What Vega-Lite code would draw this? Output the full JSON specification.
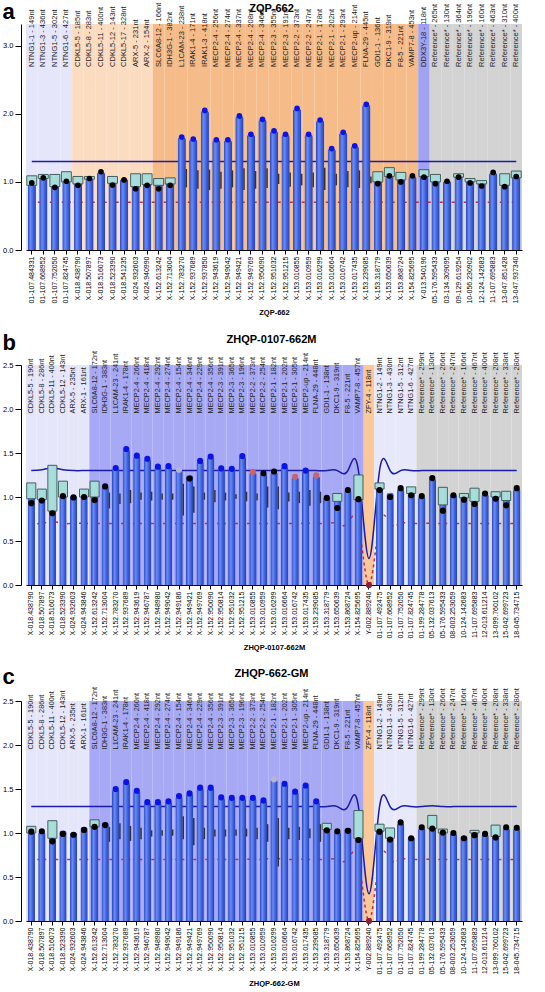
{
"$schema": "https://vega.github.io/schema/vega-lite/v6.json",
"padding": {"left": 2, "top": 1, "right": 4, "bottom": 0},
"config": {"view": {"stroke": null}, "font": "Liberation Sans",
 "axisY": {"offset": 5, "tickSize": 6, "labelPadding": 2, "titlePadding": 12, "labelFontSize": 7.5, "titleFontSize": 7.5, "titleFontWeight": "bold", "grid": false, "domainColor": "#000", "tickColor": "#000", "labelColor": "#000", "titleColor": "#000", "title": "Ratio"},
 "axisX": {"labelAngle": 270, "labelFontSize": 7, "labelColor": "#000", "tickSize": 4, "labelPadding": 2, "titleFontSize": 7.5, "titleFontWeight": "bold", "titleColor": "#000", "titlePadding": 5, "domainColor": "#000", "tickColor": "#000", "labelOverlap": false, "labelLimit": 0, "grid": false}},
"datasets": {
"a": [
{"p":"01-107.484331","t":"NTNG1-1 - 149nt","g":"NTNG1","v":1.09,"d":0.985,"s":"n","lo":0.95,"hi":1.09,"u":1.3,"l":0.7},
{"p":"01-107.668952","t":"NTNG1-3 - 436nt","g":"NTNG1","v":1.11,"d":1.06,"s":"n","lo":1.05,"hi":1.11,"u":1.3,"l":0.7},
{"p":"01-107.752050","t":"NTNG1-5 - 302nt","g":"NTNG1","v":1.11,"d":0.92,"s":"n","lo":0.93,"hi":1.11,"u":1.3,"l":0.7},
{"p":"01-107.824745","t":"NTNG1-6 - 427nt","g":"NTNG1","v":1.15,"d":1.01,"s":"n","lo":1.0,"hi":1.15,"u":1.3,"l":0.7},
{"p":"X-018.438790","t":"CDKL5-5 - 185nt","g":"CDKL5","v":1.08,"d":0.95,"s":"n","lo":0.97,"hi":1.08,"u":1.3,"l":0.7},
{"p":"X-018.507897","t":"CDKL5-8 - 283nt","g":"CDKL5","v":1.08,"d":1.05,"s":"n","lo":1.04,"hi":1.08,"u":1.3,"l":0.7},
{"p":"X-018.516073","t":"CDKL5-11 - 400nt","g":"CDKL5","v":1.15,"d":1.15,"s":"n","u":1.3,"l":0.7},
{"p":"X-018.523390","t":"CDKL5-12 - 143nt","g":"CDKL5","v":1.08,"d":0.955,"s":"n","lo":0.98,"hi":1.08,"u":1.3,"l":0.7},
{"p":"X-018.541235","t":"CDKL5-17 - 328nt","g":"CDKL5","v":1.05,"d":1.03,"s":"n","u":1.3,"l":0.7},
{"p":"X-024.932603","t":"ARX-5 - 231nt","g":"CDKL5","v":1.12,"d":0.9,"s":"n","lo":0.93,"hi":1.12,"u":1.3,"l":0.7},
{"p":"X-024.940990","t":"ARX-2 - 154nt","g":"CDKL5","v":1.12,"d":0.95,"s":"n","lo":0.96,"hi":1.12,"u":1.3,"l":0.7},
{"p":"X-152.613242","t":"SLC6A8-12 - 166nt","g":"XQ28","v":1.05,"d":0.9,"s":"n","lo":0.95,"hi":1.05,"u":1.3,"l":0.7},
{"p":"X-152.713004","t":"IDH3G-1 - 382nt","g":"XQ28","v":1.06,"d":0.95,"s":"n","lo":0.97,"hi":1.06,"u":1.3,"l":0.7},
{"p":"X-152.783270","t":"L1CAM-23 - 238nt","g":"XQ28","v":1.66,"d":1.66,"s":"gain","el":0.92,"eh":1.19,"u":1.3,"l":0.7},
{"p":"X-152.937689","t":"IRAK1-4 - 171nt","g":"XQ28","v":1.63,"d":1.63,"s":"gain","el":0.9,"eh":1.17,"u":1.3,"l":0.7},
{"p":"X-152.937850","t":"IRAK1-3 - 418nt","g":"XQ28","v":2.05,"d":2.05,"s":"gain","el":0.88,"eh":1.18,"u":1.3,"l":0.7},
{"p":"X-152.943619","t":"MECP2-4 - 256nt","g":"XQ28","v":1.62,"d":1.62,"s":"gain","el":0.9,"eh":1.15,"u":1.3,"l":0.7},
{"p":"X-152.949042","t":"MECP2-4 - 274nt","g":"XQ28","v":1.62,"d":1.62,"s":"gain","el":0.92,"eh":1.17,"u":1.3,"l":0.7},
{"p":"X-152.949421","t":"MECP2-4 - 337nt","g":"XQ28","v":1.97,"d":1.97,"s":"gain","el":0.88,"eh":1.2,"u":1.3,"l":0.7},
{"p":"X-152.949769","t":"MECP2-4 - 208nt","g":"XQ28","v":1.7,"d":1.7,"s":"gain","el":0.9,"eh":1.16,"u":1.3,"l":0.7},
{"p":"X-152.950090","t":"MECP2-4 - 346nt","g":"XQ28","v":1.92,"d":1.92,"s":"gain","el":0.91,"eh":1.2,"u":1.3,"l":0.7},
{"p":"X-152.951032","t":"MECP2-3 - 355nt","g":"XQ28","v":1.75,"d":1.75,"s":"gain","el":0.97,"eh":1.12,"u":1.3,"l":0.7},
{"p":"X-152.951215","t":"MECP2-3 - 191nt","g":"XQ28","v":1.7,"d":1.7,"s":"gain","el":0.93,"eh":1.14,"u":1.3,"l":0.7},
{"p":"X-153.010855","t":"MECP2-2 - 373nt","g":"XQ28","v":2.08,"d":2.08,"s":"gain","el":0.95,"eh":1.12,"u":1.3,"l":0.7},
{"p":"X-153.010959","t":"MECP2-2 - 247nt","g":"XQ28","v":1.7,"d":1.7,"s":"gain","el":0.92,"eh":1.14,"u":1.3,"l":0.7},
{"p":"X-153.016299","t":"MECP2-1 - 178nt","g":"XQ28","v":1.91,"d":1.91,"s":"gain","el":0.88,"eh":1.21,"u":1.3,"l":0.7},
{"p":"X-153.016664","t":"MECP2-1 - 202nt","g":"XQ28","v":1.49,"d":1.49,"s":"gain","el":0.95,"eh":1.12,"u":1.3,"l":0.7},
{"p":"X-153.016742","t":"MECP2-1 - 293nt","g":"XQ28","v":1.73,"d":1.73,"s":"gain","el":0.92,"eh":1.16,"u":1.3,"l":0.7},
{"p":"X-153.017435","t":"MECP2-up - 214nt","g":"XQ28","v":1.53,"d":1.53,"s":"gain","el":0.91,"eh":1.17,"u":1.3,"l":0.7},
{"p":"X-153.239085","t":"FLNA-29 - 445nt","g":"XQ28","v":2.14,"d":2.14,"s":"gain","el":0.98,"eh":1.08,"u":1.3,"l":0.7},
{"p":"X-153.318779","t":"GDI1-1 - 136nt","g":"XQ28","v":1.15,"d":0.975,"s":"n","lo":1.0,"hi":1.15,"u":1.3,"l":0.7},
{"p":"X-153.650639","t":"DKC1-9 - 319nt","g":"XQ28","v":1.21,"d":1.09,"s":"n","lo":1.08,"hi":1.21,"u":1.3,"l":0.7},
{"p":"X-153.868724","t":"F8-5 - 221nt","g":"XQ28","v":1.14,"d":1.0,"s":"n","lo":1.03,"hi":1.14,"u":1.3,"l":0.7},
{"p":"X-154.825695","t":"VAMP7-8 - 453nt","g":"XQ28","v":1.09,"d":1.09,"s":"n","u":1.3,"l":0.7},
{"p":"Y-013.540196","t":"DDX3Y-18 - 118nt","g":"DDX3Y","v":1.18,"d":1.07,"s":"n","lo":1.08,"hi":1.18,"u":1.3,"l":0.7},
{"p":"05-176.595433","t":"Reference* - 265nt","g":"REF","v":1.11,"d":0.975,"s":"n","lo":1.0,"hi":1.11,"u":1.3,"l":0.7},
{"p":"03-134.309095","t":"Reference* - 130nt","g":"REF","v":1.02,"d":1.01,"s":"n","u":1.3,"l":0.7},
{"p":"09-129.619254","t":"Reference* - 364nt","g":"REF","v":1.12,"d":1.07,"s":"n","lo":1.07,"hi":1.12,"u":1.3,"l":0.7},
{"p":"10-056.230902","t":"Reference* - 196nt","g":"REF","v":1.05,"d":0.985,"s":"n","lo":1.0,"hi":1.05,"u":1.3,"l":0.7},
{"p":"12-124.142683","t":"Reference* - 160nt","g":"REF","v":1.02,"d":0.94,"s":"n","lo":0.97,"hi":1.02,"u":1.3,"l":0.7},
{"p":"11-107.695883","t":"Reference* - 463nt","g":"REF","v":1.14,"d":1.14,"s":"n","u":1.3,"l":0.7},
{"p":"13-047.851428","t":"Reference* - 310nt","g":"REF","v":1.12,"d":0.93,"s":"n","lo":0.95,"hi":1.12,"u":1.3,"l":0.7},
{"p":"13-047.937340","t":"Reference* - 400nt","g":"REF","v":1.16,"d":1.08,"s":"n","lo":1.06,"hi":1.16,"u":1.3,"l":0.7}
],
"b": [
{"p":"X-018.438790","t":"CDKL5-5 - 190nt","g":"CDKL5","v":1.16,"d":0.93,"s":"n","lo":0.98,"hi":1.16,"u":1.3,"l":0.7},
{"p":"X-018.507897","t":"CDKL5-8 - 286nt","g":"CDKL5","v":1.09,"d":0.96,"s":"n","lo":0.97,"hi":1.09,"u":1.31,"l":0.7},
{"p":"X-018.516073","t":"CDKL5-11 - 400nt","g":"CDKL5","v":1.36,"d":0.815,"s":"n","lo":0.84,"hi":1.36,"u":1.33,"l":0.72},
{"p":"X-018.523390","t":"CDKL5-12 - 143nt","g":"CDKL5","v":1.18,"d":1.01,"s":"n","lo":1.0,"hi":1.18,"u":1.31,"l":0.7},
{"p":"X-024.932603","t":"ARX-5 - 235nt","g":"CDKL5","v":1.02,"d":0.995,"s":"n","u":1.3,"l":0.7},
{"p":"X-024.943846","t":"ARX-1 - 161nt","g":"CDKL5","v":1.09,"d":1.0,"s":"n","lo":1.0,"hi":1.09,"u":1.3,"l":0.7},
{"p":"X-152.613242","t":"SLC6A8-12 - 172nt","g":"XQ28","v":1.18,"d":0.965,"s":"n","lo":1.0,"hi":1.18,"u":1.3,"l":0.7},
{"p":"X-152.713004","t":"IDH3G-1 - 383nt","g":"XQ28","v":1.13,"d":1.12,"s":"n","el":0.87,"eh":1.05,"u":1.3,"l":0.7},
{"p":"X-152.783270","t":"L1CAM-23 - 241nt","g":"XQ28","v":1.33,"d":1.33,"s":"gain","el":0.92,"eh":1.04,"u":1.3,"l":0.7},
{"p":"X-152.937689","t":"IRAK1-4 - 178nt","g":"XQ28","v":1.545,"d":1.545,"s":"gain","el":0.93,"eh":1.08,"u":1.3,"l":0.7},
{"p":"X-152.943619","t":"MECP2-4 - 260nt","g":"XQ28","v":1.47,"d":1.47,"s":"gain","el":0.97,"eh":1.05,"u":1.3,"l":0.7},
{"p":"X-152.946787","t":"MECP2-4 - 418nt","g":"XQ28","v":1.435,"d":1.435,"s":"gain","el":0.96,"eh":1.06,"u":1.3,"l":0.7},
{"p":"X-152.948980","t":"MECP2-4 - 292nt","g":"XQ28","v":1.345,"d":1.345,"s":"gain","el":0.97,"eh":1.04,"u":1.3,"l":0.7},
{"p":"X-152.949042","t":"MECP2-4 - 274nt","g":"XQ28","v":1.35,"d":1.35,"s":"gain","el":0.97,"eh":1.04,"u":1.3,"l":0.7},
{"p":"X-152.949186","t":"MECP2-4 - 154nt","g":"XQ28","v":1.31,"d":1.31,"s":"amb","el":0.79,"eh":1.15,"u":1.3,"l":0.7},
{"p":"X-152.949421","t":"MECP2-4 - 346nt","g":"XQ28","v":1.25,"d":1.21,"s":"n","el":0.82,"eh":1.12,"u":1.3,"l":0.7},
{"p":"X-152.949769","t":"MECP2-4 - 229nt","g":"XQ28","v":1.41,"d":1.41,"s":"gain","el":0.97,"eh":1.05,"u":1.3,"l":0.7},
{"p":"X-152.950090","t":"MECP2-4 - 356nt","g":"XQ28","v":1.46,"d":1.46,"s":"gain","el":0.94,"eh":1.08,"u":1.3,"l":0.7},
{"p":"X-152.950814","t":"MECP2-3 - 391nt","g":"XQ28","v":1.325,"d":1.325,"s":"gain","el":0.96,"eh":1.05,"u":1.3,"l":0.7},
{"p":"X-152.951032","t":"MECP2-3 - 365nt","g":"XQ28","v":1.32,"d":1.32,"s":"gain","el":0.98,"eh":1.03,"u":1.3,"l":0.7},
{"p":"X-152.951215","t":"MECP2-3 - 196nt","g":"XQ28","v":1.465,"d":1.465,"s":"gain","el":0.95,"eh":1.06,"u":1.3,"l":0.7},
{"p":"X-153.010855","t":"MECP2-2 - 373nt","g":"XQ28","v":1.285,"d":1.285,"s":"bord","el":0.96,"eh":1.04,"u":1.3,"l":0.7},
{"p":"X-153.010959","t":"MECP2-2 - 254nt","g":"XQ28","v":1.27,"d":1.27,"s":"n","el":0.88,"eh":1.12,"u":1.3,"l":0.7},
{"p":"X-153.016299","t":"MECP2-1 - 182nt","g":"XQ28","v":1.29,"d":1.29,"s":"n","el":0.86,"eh":1.12,"u":1.3,"l":0.7},
{"p":"X-153.016664","t":"MECP2-1 - 202nt","g":"XQ28","v":1.35,"d":1.35,"s":"gain","el":0.95,"eh":1.05,"u":1.3,"l":0.7},
{"p":"X-153.016742","t":"MECP2-1 - 305nt","g":"XQ28","v":1.23,"d":1.23,"s":"bord","el":0.93,"eh":1.06,"u":1.3,"l":0.7},
{"p":"X-153.017435","t":"MECP2-up - 214nt","g":"XQ28","v":1.3,"d":1.3,"s":"gain","el":0.9,"eh":1.08,"u":1.3,"l":0.7},
{"p":"X-153.239085","t":"FLNA-29 - 448nt","g":"XQ28","v":1.245,"d":1.245,"s":"bord","el":0.93,"eh":1.06,"u":1.3,"l":0.7},
{"p":"X-153.318779","t":"GDI1-1 - 138nt","g":"XQ28","v":1.0,"d":0.99,"s":"n","u":1.3,"l":0.7},
{"p":"X-153.650639","t":"DKC1-9 - 319nt","g":"XQ28","v":1.04,"d":0.875,"s":"n","lo":0.95,"hi":1.04,"u":1.3,"l":0.7},
{"p":"X-153.868724","t":"F8-5 - 221nt","g":"XQ28","v":1.08,"d":1.08,"s":"n","u":1.3,"l":0.7},
{"p":"X-154.825695","t":"VAMP7-8 - 457nt","g":"XQ28","v":1.25,"d":0.975,"s":"n","lo":0.97,"hi":1.25,"u":1.3,"l":0.7},
{"p":"Y-002.889240","t":"ZFY-4 - 118nt","g":"ZFY","v":0,"d":0,"s":"del","u":0.3,"l":0},
{"p":"01-107.492475","t":"NTNG1-2 - 149nt","g":"NTNG1","v":1.16,"d":1.08,"s":"n","lo":1.09,"hi":1.16,"u":1.3,"l":0.7},
{"p":"01-107.668952","t":"NTNG1-3 - 430nt","g":"NTNG1","v":1.05,"d":1.0,"s":"n","u":1.3,"l":0.7},
{"p":"01-107.752050","t":"NTNG1-5 - 312nt","g":"NTNG1","v":1.1,"d":1.1,"s":"n","u":1.3,"l":0.7},
{"p":"01-107.824745","t":"NTNG1-6 - 427nt","g":"NTNG1","v":1.115,"d":1.02,"s":"n","lo":1.04,"hi":1.115,"u":1.3,"l":0.7},
{"p":"01-199.284778","t":"Reference* - 299nt","g":"REF","v":1.01,"d":1.01,"s":"n","u":1.3,"l":0.7},
{"p":"05-132.037613","t":"Reference* - 130nt","g":"REF","v":1.215,"d":1.215,"s":"n","u":1.3,"l":0.7},
{"p":"05-176.595433","t":"Reference* - 266nt","g":"REF","v":1.11,"d":0.845,"s":"n","lo":0.91,"hi":1.11,"u":1.3,"l":0.7},
{"p":"08-003.253059","t":"Reference* - 247nt","g":"REF","v":1.03,"d":1.02,"s":"n","u":1.3,"l":0.7},
{"p":"10-124.142683","t":"Reference* - 166nt","g":"REF","v":1.04,"d":0.97,"s":"n","lo":0.99,"hi":1.04,"u":1.3,"l":0.7},
{"p":"11-107.695883","t":"Reference* - 467nt","g":"REF","v":1.1,"d":0.92,"s":"n","lo":0.95,"hi":1.1,"u":1.3,"l":0.7},
{"p":"12-013.611214","t":"Reference* - 400nt","g":"REF","v":1.04,"d":1.04,"s":"n","u":1.3,"l":0.7},
{"p":"13-099.760102","t":"Reference* - 208nt","g":"REF","v":1.06,"d":0.98,"s":"n","lo":1.0,"hi":1.06,"u":1.3,"l":0.7},
{"p":"15-042.699723","t":"Reference* - 338nt","g":"REF","v":1.065,"d":0.905,"s":"n","lo":0.96,"hi":1.065,"u":1.3,"l":0.7},
{"p":"18-045.734715","t":"Reference* - 280nt","g":"REF","v":1.1,"d":1.1,"s":"n","u":1.3,"l":0.7}
],
"c": [
{"p":"X-018.438790","t":"CDKL5-5 - 190nt","g":"CDKL5","v":1.076,"d":1.015,"s":"n","lo":1.0,"hi":1.076,"u":1.3,"l":0.7},
{"p":"X-018.507897","t":"CDKL5-8 - 286nt","g":"CDKL5","v":1.02,"d":1.02,"s":"n","u":1.3,"l":0.7},
{"p":"X-018.516073","t":"CDKL5-11 - 400nt","g":"CDKL5","v":1.14,"d":0.905,"s":"n","lo":0.94,"hi":1.14,"u":1.3,"l":0.7},
{"p":"X-018.523390","t":"CDKL5-12 - 143nt","g":"CDKL5","v":1.03,"d":0.99,"s":"n","u":1.3,"l":0.7},
{"p":"X-024.932603","t":"ARX-5 - 235nt","g":"CDKL5","v":1.01,"d":0.98,"s":"n","u":1.3,"l":0.7},
{"p":"X-024.943846","t":"ARX-1 - 161nt","g":"CDKL5","v":1.07,"d":1.035,"s":"n","u":1.3,"l":0.7},
{"p":"X-152.613242","t":"SLC6A8-12 - 172nt","g":"XQ28","v":1.15,"d":1.07,"s":"n","lo":1.07,"hi":1.15,"u":1.3,"l":0.7},
{"p":"X-152.713004","t":"IDH3G-1 - 383nt","g":"XQ28","v":1.125,"d":1.09,"s":"n","el":0.9,"eh":1.07,"u":1.3,"l":0.7},
{"p":"X-152.783270","t":"L1CAM-23 - 241nt","g":"XQ28","v":1.5,"d":1.5,"s":"gain","el":0.93,"eh":1.11,"u":1.3,"l":0.7},
{"p":"X-152.937689","t":"IRAK1-4 - 178nt","g":"XQ28","v":1.58,"d":1.58,"s":"gain","el":0.91,"eh":1.08,"u":1.3,"l":0.7},
{"p":"X-152.943619","t":"MECP2-4 - 260nt","g":"XQ28","v":1.48,"d":1.48,"s":"gain","el":0.93,"eh":1.06,"u":1.3,"l":0.7},
{"p":"X-152.946787","t":"MECP2-4 - 418nt","g":"XQ28","v":1.35,"d":1.35,"s":"gain","el":0.96,"eh":1.03,"u":1.3,"l":0.7},
{"p":"X-152.948980","t":"MECP2-4 - 292nt","g":"XQ28","v":1.35,"d":1.35,"s":"gain","el":0.97,"eh":1.03,"u":1.3,"l":0.7},
{"p":"X-152.949042","t":"MECP2-4 - 274nt","g":"XQ28","v":1.36,"d":1.36,"s":"gain","el":0.97,"eh":1.04,"u":1.3,"l":0.7},
{"p":"X-152.949186","t":"MECP2-4 - 154nt","g":"XQ28","v":1.42,"d":1.42,"s":"gain","el":0.93,"eh":1.19,"u":1.3,"l":0.7},
{"p":"X-152.949421","t":"MECP2-4 - 346nt","g":"XQ28","v":1.45,"d":1.45,"s":"gain","el":0.86,"eh":1.17,"u":1.3,"l":0.7},
{"p":"X-152.949769","t":"MECP2-4 - 229nt","g":"XQ28","v":1.515,"d":1.515,"s":"gain","el":0.93,"eh":1.06,"u":1.3,"l":0.7},
{"p":"X-152.950090","t":"MECP2-4 - 356nt","g":"XQ28","v":1.515,"d":1.515,"s":"gain","el":0.96,"eh":1.04,"u":1.3,"l":0.7},
{"p":"X-152.950814","t":"MECP2-3 - 391nt","g":"XQ28","v":1.405,"d":1.405,"s":"gain","el":0.96,"eh":1.04,"u":1.3,"l":0.7},
{"p":"X-152.951032","t":"MECP2-3 - 365nt","g":"XQ28","v":1.4,"d":1.4,"s":"gain","el":0.97,"eh":1.04,"u":1.3,"l":0.7},
{"p":"X-152.951215","t":"MECP2-3 - 196nt","g":"XQ28","v":1.4,"d":1.4,"s":"gain","el":0.96,"eh":1.05,"u":1.3,"l":0.7},
{"p":"X-153.010855","t":"MECP2-2 - 373nt","g":"XQ28","v":1.4,"d":1.4,"s":"gain","el":0.93,"eh":1.06,"u":1.3,"l":0.7},
{"p":"X-153.010959","t":"MECP2-2 - 254nt","g":"XQ28","v":1.37,"d":1.37,"s":"gain","el":0.9,"eh":1.1,"u":1.3,"l":0.7},
{"p":"X-153.016299","t":"MECP2-1 - 182nt","g":"XQ28","v":1.61,"d":1.61,"s":"amb","el":0.62,"eh":1.17,"u":1.3,"l":0.715},
{"p":"X-153.016664","t":"MECP2-1 - 202nt","g":"XQ28","v":1.56,"d":1.56,"s":"gain","el":0.93,"eh":1.06,"u":1.3,"l":0.7},
{"p":"X-153.016742","t":"MECP2-1 - 305nt","g":"XQ28","v":1.47,"d":1.47,"s":"gain","el":0.92,"eh":1.07,"u":1.3,"l":0.7},
{"p":"X-153.017435","t":"MECP2-up - 214nt","g":"XQ28","v":1.54,"d":1.54,"s":"gain","el":0.94,"eh":1.05,"u":1.3,"l":0.7},
{"p":"X-153.239085","t":"FLNA-29 - 448nt","g":"XQ28","v":1.36,"d":1.36,"s":"gain","el":0.9,"eh":1.1,"u":1.3,"l":0.7},
{"p":"X-153.318779","t":"GDI1-1 - 138nt","g":"XQ28","v":1.11,"d":1.03,"s":"n","lo":1.04,"hi":1.11,"u":1.3,"l":0.7},
{"p":"X-153.650639","t":"DKC1-9 - 319nt","g":"XQ28","v":1.02,"d":1.02,"s":"n","u":1.3,"l":0.7},
{"p":"X-153.868724","t":"F8-5 - 221nt","g":"XQ28","v":1.06,"d":1.025,"s":"n","u":1.3,"l":0.7},
{"p":"X-154.825695","t":"VAMP7-8 - 457nt","g":"XQ28","v":1.255,"d":0.92,"s":"n","lo":0.94,"hi":1.255,"u":1.3,"l":0.7},
{"p":"Y-002.889240","t":"ZFY-4 - 118nt","g":"ZFY","v":0,"d":0,"s":"del","u":0.31,"l":0},
{"p":"01-107.492475","t":"NTNG1-2 - 149nt","g":"NTNG1","v":1.1,"d":1.015,"s":"n","lo":1.02,"hi":1.1,"u":1.3,"l":0.7},
{"p":"01-107.668952","t":"NTNG1-3 - 430nt","g":"NTNG1","v":1.057,"d":0.925,"s":"n","lo":0.94,"hi":1.057,"u":1.3,"l":0.7},
{"p":"01-107.752050","t":"NTNG1-5 - 312nt","g":"NTNG1","v":1.12,"d":1.12,"s":"n","u":1.3,"l":0.7},
{"p":"01-107.824745","t":"NTNG1-6 - 427nt","g":"NTNG1","v":0.96,"d":0.94,"s":"n","u":1.3,"l":0.7},
{"p":"01-199.284778","t":"Reference* - 299nt","g":"REF","v":1.065,"d":1.065,"s":"n","u":1.3,"l":0.7},
{"p":"05-132.037613","t":"Reference* - 130nt","g":"REF","v":1.2,"d":1.05,"s":"n","lo":1.05,"hi":1.2,"u":1.31,"l":0.7},
{"p":"05-176.595433","t":"Reference* - 266nt","g":"REF","v":1.045,"d":1.005,"s":"n","lo":1.0,"hi":1.045,"u":1.3,"l":0.7},
{"p":"08-003.253059","t":"Reference* - 247nt","g":"REF","v":1.0,"d":1.0,"s":"n","u":1.3,"l":0.7},
{"p":"10-124.142683","t":"Reference* - 166nt","g":"REF","v":0.97,"d":0.94,"s":"n","u":1.3,"l":0.7},
{"p":"11-107.695883","t":"Reference* - 467nt","g":"REF","v":1.03,"d":0.975,"s":"n","lo":1.0,"hi":1.03,"u":1.3,"l":0.7},
{"p":"12-013.611214","t":"Reference* - 400nt","g":"REF","v":0.99,"d":0.99,"s":"n","u":1.3,"l":0.7},
{"p":"13-099.760102","t":"Reference* - 208nt","g":"REF","v":1.09,"d":0.95,"s":"n","lo":0.96,"hi":1.09,"u":1.3,"l":0.7},
{"p":"15-042.699723","t":"Reference* - 338nt","g":"REF","v":1.065,"d":1.065,"s":"n","u":1.3,"l":0.7},
{"p":"18-045.734715","t":"Reference* - 280nt","g":"REF","v":1.06,"d":1.06,"s":"n","u":1.3,"l":0.7}
]
},
"spacing": 16,
"vconcat": [
{
 "title": {"text": "a", "anchor": "start", "frame": "bounds", "fontSize": 22, "fontWeight": "bold", "offset": -22, "color": "#000"},
 "width": 496, "height": 226,
 "data": {"name": "a"},
 "resolve": {"scale": {"color": "independent"}, "axis": {"x": "independent"}},
 "layer": [
  {"mark": {"type": "bar"},
   "encoding": {"x": {"field": "p", "type": "nominal", "sort": null, "scale": {"paddingInner": 0, "paddingOuter": 0},
     "axis": {"orient": "top", "title": "ZQP-662", "labels": false, "ticks": false, "domain": false, "titlePadding": 11, "titleFontSize": 11, "titleX": 245}},
    "color": {"field": "g", "type": "nominal", "legend": null, "scale": {"domain": ["NTNG1", "CDKL5", "XQ28", "DDX3Y", "REF"], "range": ["#e6e6fb", "#fcdcc0", "#f5bc8a", "#a0a2f2", "#d3d3d3"]}}}},
  {"mark": {"type": "line", "interpolate": "natural", "color": "#1c1ca8", "strokeWidth": 1.5},
   "encoding": {"x": {"field": "p", "type": "nominal", "sort": null, "axis": null}, "y": {"field": "u", "type": "quantitative"}}},
  {"mark": {"type": "line", "interpolate": "natural", "color": "#c0303a", "strokeWidth": 1.5, "strokeDash": [3, 3]},
   "encoding": {"x": {"field": "p", "type": "nominal", "sort": null, "axis": null}, "y": {"field": "l", "type": "quantitative"}}},
  {"mark": {"type": "bar", "width": {"band": 0.72}, "cornerRadiusTopLeft": 3, "cornerRadiusTopRight": 3,
    "color": {"gradient": "linear", "x1": 0, "x2": 1, "y1": 0, "y2": 0, "stops": [{"offset": 0, "color": "#2846c4"}, {"offset": 0.35, "color": "#6a8cf2"}, {"offset": 0.7, "color": "#3b5fdc"}, {"offset": 1, "color": "#2440b4"}]}},
   "encoding": {"x": {"field": "p", "type": "nominal", "sort": null, "axis": {"orient": "bottom", "title": "ZQP-662"}},
    "y": {"field": "v", "type": "quantitative", "scale": {"domain": [0, 3.32], "nice": false}, "axis": {"values": [0, 0.5, 1, 1.5, 2, 2.5, 3]}}}},
  {"mark": {"type": "rect", "width": {"band": 0.86}, "fill": "#ace3da", "stroke": "#3d5a5a", "strokeWidth": 1, "opacity": 0.95},
   "encoding": {"x": {"field": "p", "type": "nominal", "sort": null, "axis": null}, "y": {"field": "lo", "type": "quantitative"}, "y2": {"field": "hi"}}},
  {"mark": {"type": "rule", "color": "#333", "strokeWidth": 1.5},
   "encoding": {"x": {"field": "p", "type": "nominal", "sort": null, "axis": null, "bandPosition": 0.9}, "y": {"field": "el", "type": "quantitative"}, "y2": {"field": "eh"}}},
  {"mark": {"type": "point", "filled": true, "size": 32, "opacity": 1},
   "encoding": {"x": {"field": "p", "type": "nominal", "sort": null, "axis": null}, "y": {"field": "d", "type": "quantitative"},
    "color": {"field": "s", "type": "nominal", "legend": null, "scale": {"domain": ["n", "gain", "amb", "bord", "del"], "range": ["#000000", "#0a14e6", "#b4b4d4", "#c8646e", "#8c1e3c"]}}}},
  {"mark": {"type": "text", "angle": 270, "align": "left", "baseline": "middle", "fontSize": 7.5, "color": "#222"},
   "encoding": {"x": {"field": "p", "type": "nominal", "sort": null, "axis": null}, "y": {"datum": 2.69}, "text": {"field": "t"}}}
 ]
},
{
 "spacing": 15,
 "vconcat": [
 {
 "title": {"text": "b", "anchor": "start", "frame": "bounds", "fontSize": 22, "fontWeight": "bold", "offset": -22, "color": "#000"},
 "width": 496, "height": 220,
 "data": {"name": "b"},
 "resolve": {"scale": {"color": "independent"}, "axis": {"x": "independent"}},
 "layer": [
  {"mark": {"type": "bar"},
   "encoding": {"x": {"field": "p", "type": "nominal", "sort": null, "scale": {"paddingInner": 0, "paddingOuter": 0},
     "axis": {"orient": "top", "title": "ZHQP-0107-662M", "labels": false, "ticks": false, "domain": false, "titlePadding": 21, "titleFontSize": 11, "titleX": 245}},
    "color": {"field": "g", "type": "nominal", "legend": null, "scale": {"domain": ["CDKL5", "XQ28", "ZFY", "NTNG1", "REF"], "range": ["#e6e6fb", "#a7a9f4", "#fbc89a", "#e8e8fb", "#d3d3d3"]}}}},
  {"mark": {"type": "line", "interpolate": "natural", "color": "#1c1ca8", "strokeWidth": 1.5},
   "encoding": {"x": {"field": "p", "type": "nominal", "sort": null, "axis": null}, "y": {"field": "u", "type": "quantitative"}}},
  {"mark": {"type": "line", "interpolate": "natural", "color": "#c0303a", "strokeWidth": 1.5, "strokeDash": [3, 3]},
   "encoding": {"x": {"field": "p", "type": "nominal", "sort": null, "axis": null}, "y": {"field": "l", "type": "quantitative"}}},
  {"mark": {"type": "bar", "width": {"band": 0.7}, "cornerRadiusTopLeft": 3, "cornerRadiusTopRight": 3,
    "color": {"gradient": "linear", "x1": 0, "x2": 1, "y1": 0, "y2": 0, "stops": [{"offset": 0, "color": "#2846c4"}, {"offset": 0.35, "color": "#6a8cf2"}, {"offset": 0.7, "color": "#3b5fdc"}, {"offset": 1, "color": "#2440b4"}]}},
   "encoding": {"x": {"field": "p", "type": "nominal", "sort": null, "axis": {"orient": "bottom", "title": "ZHQP-0107-662M"}},
    "y": {"field": "v", "type": "quantitative", "scale": {"domain": [0, 2.5], "nice": false}, "axis": {"values": [0, 0.5, 1, 1.5, 2, 2.5]}}}},
  {"mark": {"type": "rect", "width": {"band": 0.86}, "fill": "#ace3da", "stroke": "#3d5a5a", "strokeWidth": 1, "opacity": 0.95},
   "encoding": {"x": {"field": "p", "type": "nominal", "sort": null, "axis": null}, "y": {"field": "lo", "type": "quantitative"}, "y2": {"field": "hi"}}},
  {"mark": {"type": "rule", "color": "#333", "strokeWidth": 1.5},
   "encoding": {"x": {"field": "p", "type": "nominal", "sort": null, "axis": null, "bandPosition": 0.9}, "y": {"field": "el", "type": "quantitative"}, "y2": {"field": "eh"}}},
  {"mark": {"type": "point", "filled": true, "size": 38, "opacity": 1},
   "encoding": {"x": {"field": "p", "type": "nominal", "sort": null, "axis": null}, "y": {"field": "d", "type": "quantitative"},
    "color": {"field": "s", "type": "nominal", "legend": null, "scale": {"domain": ["n", "gain", "amb", "bord", "del"], "range": ["#000000", "#0a14e6", "#b4b4d4", "#c8646e", "#8c1e3c"]}}}},
  {"mark": {"type": "text", "angle": 270, "align": "left", "baseline": "middle", "fontSize": 7.3, "color": "#222"},
   "encoding": {"x": {"field": "p", "type": "nominal", "sort": null, "axis": null}, "y": {"datum": 1.95}, "text": {"field": "t"}}}
 ]
 },
 {
 "title": {"text": "c", "anchor": "start", "frame": "bounds", "fontSize": 22, "fontWeight": "bold", "offset": -22, "color": "#000"},
 "width": 496, "height": 220,
 "data": {"name": "c"},
 "resolve": {"scale": {"color": "independent"}, "axis": {"x": "independent"}},
 "layer": [
  {"mark": {"type": "bar"},
   "encoding": {"x": {"field": "p", "type": "nominal", "sort": null, "scale": {"paddingInner": 0, "paddingOuter": 0},
     "axis": {"orient": "top", "title": "ZHQP-662-GM", "labels": false, "ticks": false, "domain": false, "titlePadding": 23, "titleFontSize": 11, "titleX": 245}},
    "color": {"field": "g", "type": "nominal", "legend": null, "scale": {"domain": ["CDKL5", "XQ28", "ZFY", "NTNG1", "REF"], "range": ["#e6e6fb", "#a7a9f4", "#fbc89a", "#e8e8fb", "#d3d3d3"]}}}},
  {"mark": {"type": "line", "interpolate": "natural", "color": "#1c1ca8", "strokeWidth": 1.5},
   "encoding": {"x": {"field": "p", "type": "nominal", "sort": null, "axis": null}, "y": {"field": "u", "type": "quantitative"}}},
  {"mark": {"type": "line", "interpolate": "natural", "color": "#c0303a", "strokeWidth": 1.5, "strokeDash": [3, 3]},
   "encoding": {"x": {"field": "p", "type": "nominal", "sort": null, "axis": null}, "y": {"field": "l", "type": "quantitative"}}},
  {"mark": {"type": "bar", "width": {"band": 0.7}, "cornerRadiusTopLeft": 3, "cornerRadiusTopRight": 3,
    "color": {"gradient": "linear", "x1": 0, "x2": 1, "y1": 0, "y2": 0, "stops": [{"offset": 0, "color": "#2846c4"}, {"offset": 0.35, "color": "#6a8cf2"}, {"offset": 0.7, "color": "#3b5fdc"}, {"offset": 1, "color": "#2440b4"}]}},
   "encoding": {"x": {"field": "p", "type": "nominal", "sort": null, "axis": {"orient": "bottom", "title": "ZHQP-662-GM"}},
    "y": {"field": "v", "type": "quantitative", "scale": {"domain": [0, 2.5], "nice": false}, "axis": {"values": [0, 0.5, 1, 1.5, 2, 2.5]}}}},
  {"mark": {"type": "rect", "width": {"band": 0.86}, "fill": "#ace3da", "stroke": "#3d5a5a", "strokeWidth": 1, "opacity": 0.95},
   "encoding": {"x": {"field": "p", "type": "nominal", "sort": null, "axis": null}, "y": {"field": "lo", "type": "quantitative"}, "y2": {"field": "hi"}}},
  {"mark": {"type": "rule", "color": "#333", "strokeWidth": 1.5},
   "encoding": {"x": {"field": "p", "type": "nominal", "sort": null, "axis": null, "bandPosition": 0.9}, "y": {"field": "el", "type": "quantitative"}, "y2": {"field": "eh"}}},
  {"mark": {"type": "point", "filled": true, "size": 38, "opacity": 1},
   "encoding": {"x": {"field": "p", "type": "nominal", "sort": null, "axis": null}, "y": {"field": "d", "type": "quantitative"},
    "color": {"field": "s", "type": "nominal", "legend": null, "scale": {"domain": ["n", "gain", "amb", "bord", "del"], "range": ["#000000", "#0a14e6", "#b4b4d4", "#c8646e", "#8c1e3c"]}}}},
  {"mark": {"type": "text", "angle": 270, "align": "left", "baseline": "middle", "fontSize": 7.3, "color": "#222"},
   "encoding": {"x": {"field": "p", "type": "nominal", "sort": null, "axis": null}, "y": {"datum": 1.95}, "text": {"field": "t"}}}
 ]
 }
 ]
}
]
}
